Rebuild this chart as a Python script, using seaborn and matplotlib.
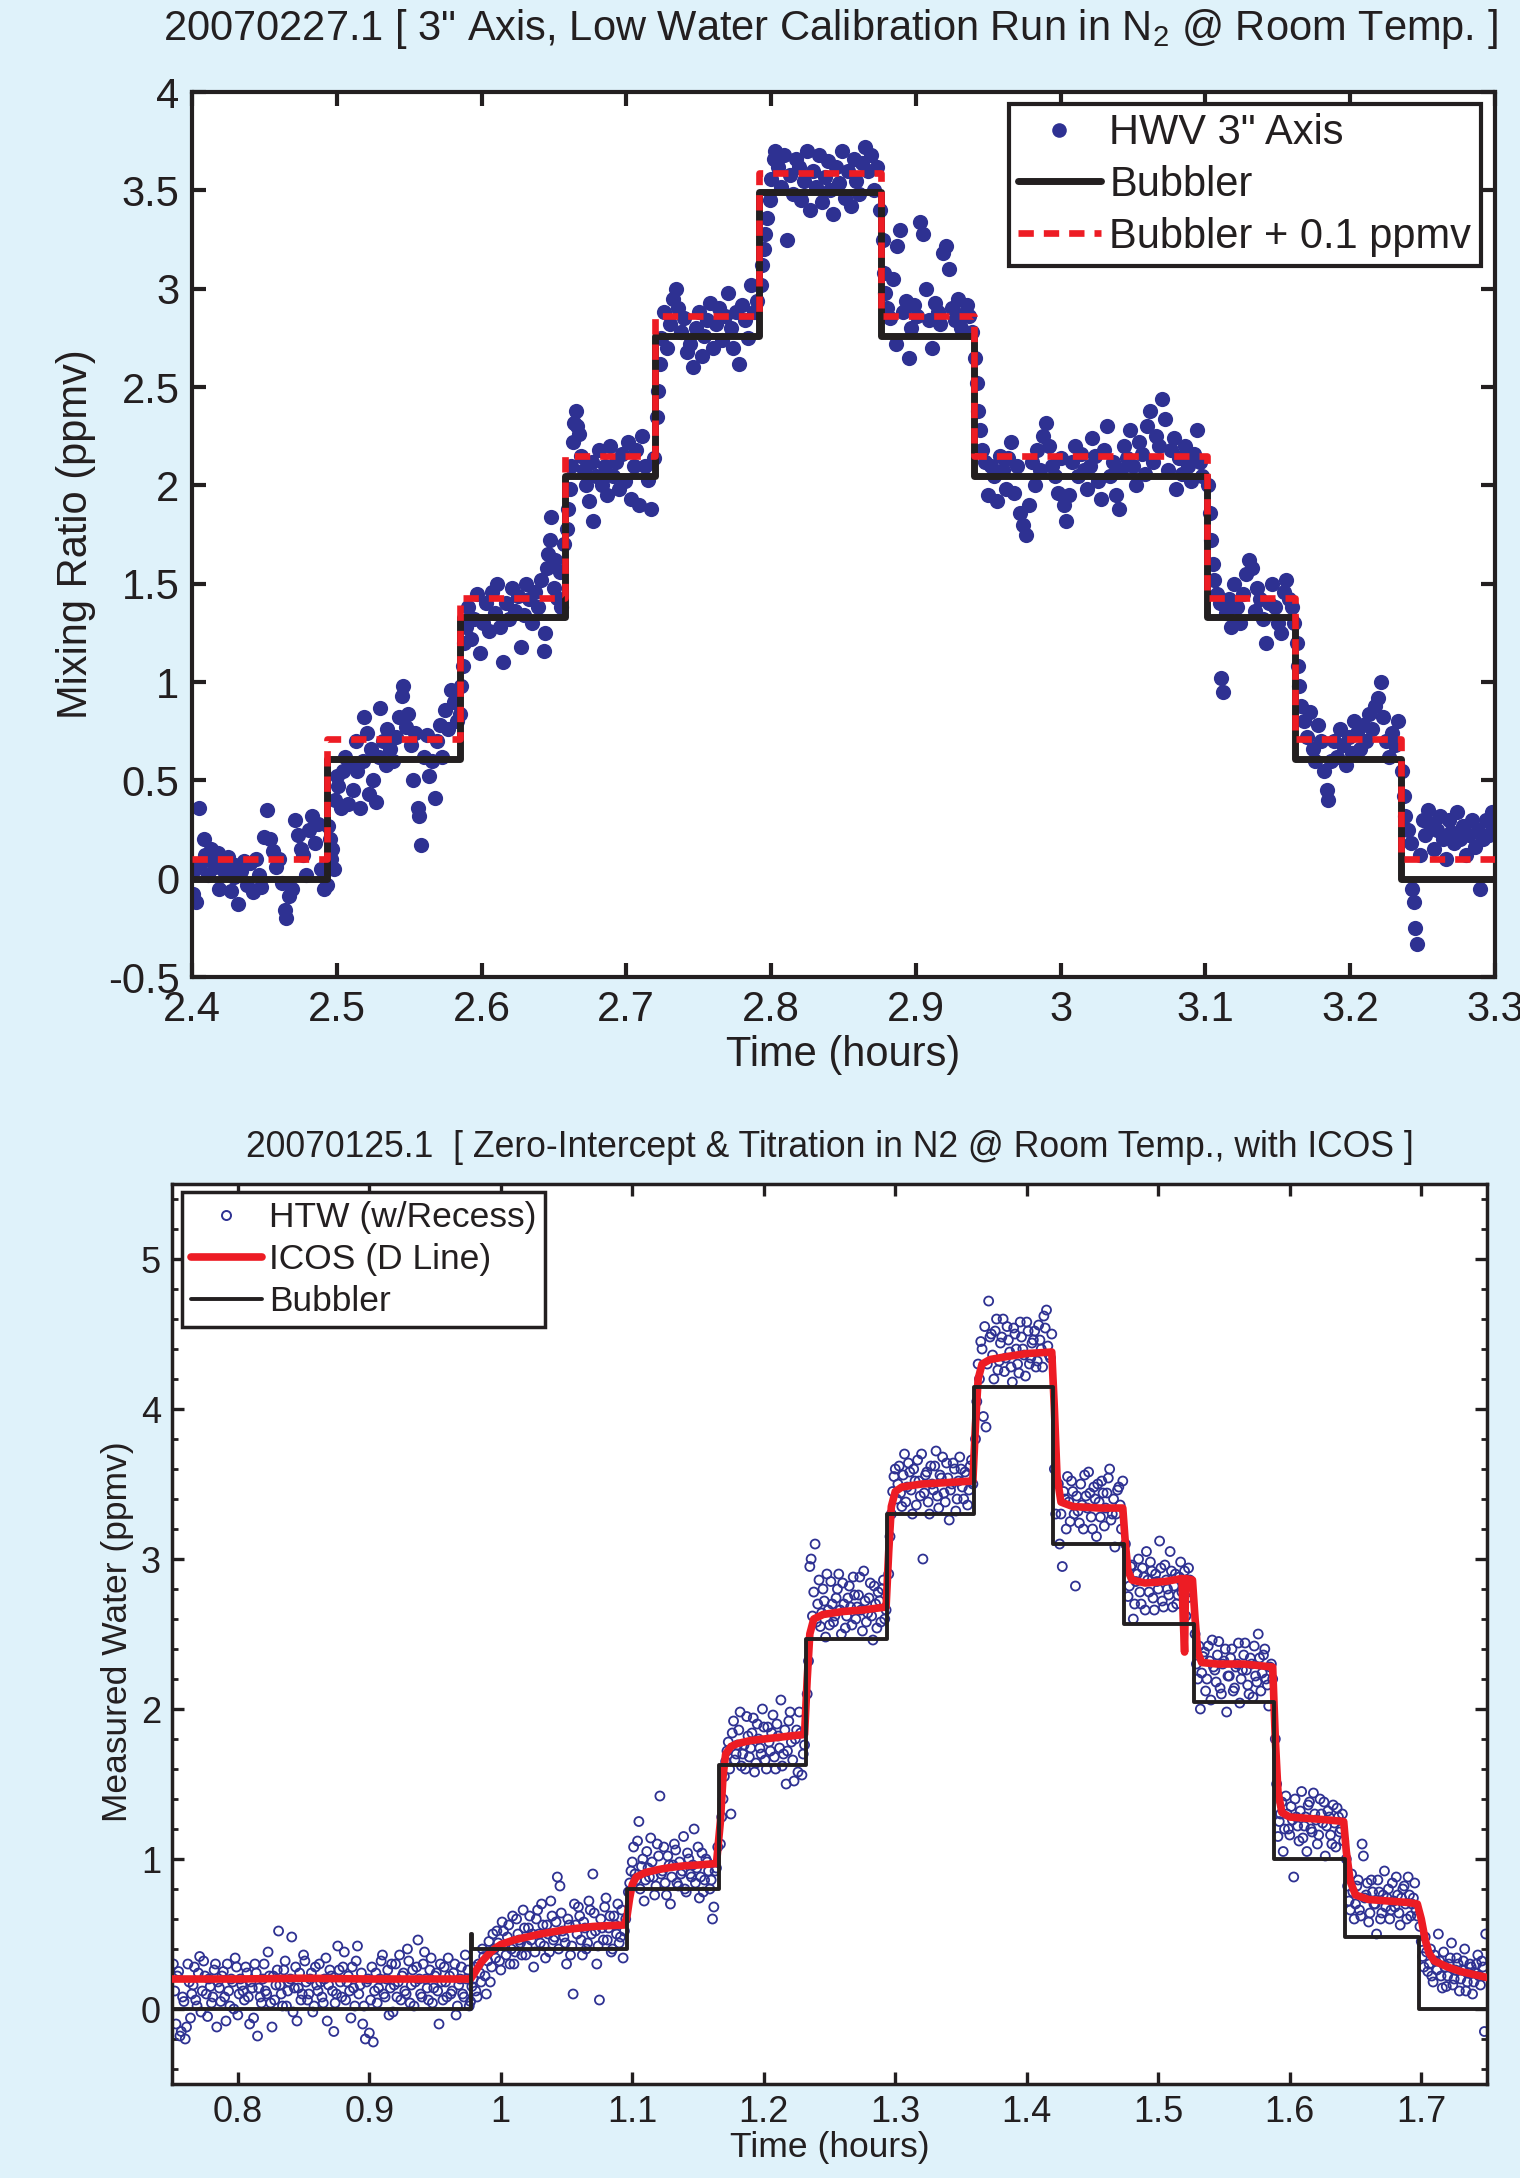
import numpy as np
import pandas as pd
import matplotlib
matplotlib.use("Agg")
import matplotlib.pyplot as plt
from matplotlib.lines import Line2D
from matplotlib.ticker import MultipleLocator, FuncFormatter
import seaborn as sns

# ---------------- top panel data (20070227.1) ----------------
top_title = '20070227.1 [ 3" Axis, Low Water Calibration Run in N$_2$ @ Room Temp. ]'
top_xticks = [2.4, 2.5, 2.6, 2.7, 2.8, 2.9, 3.0, 3.1, 3.2, 3.3]
top_yticks = [-0.5, 0, 0.5, 1, 1.5, 2, 2.5, 3, 3.5, 4]

# Bubbler step edges (hours) and levels (ppmv)
bubbler_top_t = [2.4, 2.493, 2.585, 2.658, 2.72, 2.792, 2.876, 2.94, 3.101, 3.162, 3.235, 3.3]
bubbler_top_v = [0.0, 0.61, 1.33, 2.05, 2.76, 3.49, 2.76, 2.05, 1.33, 0.61, 0.0, 0.0]
bubbler_offset = 0.1

# HWV 3" Axis measurements (time, ppmv)
hwv_points = [
    (2.401, -0.08), (2.402, 0.05), (2.403, -0.12), (2.405, 0.36), (2.406, 0.08), (2.408, 0.2),
    (2.409, 0.12), (2.411, 0.02), (2.413, 0.15), (2.414, 0.1), (2.416, 0.06), (2.418, 0.13),
    (2.419, -0.05), (2.421, 0.09), (2.423, 0.03), (2.425, 0.11), (2.427, -0.06), (2.429, 0.01),
    (2.430, 0.07), (2.432, -0.13), (2.434, 0.04), (2.436, 0.09), (2.438, -0.03), (2.440, 0.08),
    (2.442, -0.07), (2.444, 0.1), (2.446, 0.02), (2.448, -0.04), (2.450, 0.21), (2.452, 0.35),
    (2.454, 0.2), (2.456, 0.14), (2.458, 0.06), (2.460, 0.1), (2.462, -0.02), (2.464, -0.16),
    (2.465, -0.2), (2.467, -0.09), (2.469, -0.05), (2.471, 0.3), (2.473, 0.22), (2.475, 0.15),
    (2.477, 0.12), (2.479, 0.02), (2.481, 0.25), (2.483, 0.32), (2.485, 0.18), (2.487, 0.28),
    (2.489, 0.05), (2.491, -0.05), (2.493, -0.03), (2.494, 0.27), (2.495, 0.2), (2.496, 0.1),
    (2.497, 0.15), (2.498, 0.05),
    (2.499, 0.4), (2.500, 0.52), (2.501, 0.47), (2.503, 0.36), (2.504, 0.55), (2.506, 0.62),
    (2.508, 0.38), (2.509, 0.58), (2.511, 0.45), (2.513, 0.7), (2.514, 0.55), (2.516, 0.36),
    (2.518, 0.6), (2.519, 0.82), (2.521, 0.74), (2.522, 0.43), (2.524, 0.66), (2.525, 0.5),
    (2.527, 0.39), (2.529, 0.62), (2.530, 0.87), (2.532, 0.7), (2.534, 0.58), (2.535, 0.76),
    (2.537, 0.66), (2.539, 0.6), (2.541, 0.72), (2.543, 0.82), (2.545, 0.93), (2.546, 0.98),
    (2.548, 0.77), (2.549, 0.84), (2.551, 0.68), (2.553, 0.5), (2.554, 0.74), (2.556, 0.36),
    (2.557, 0.32), (2.558, 0.17), (2.560, 0.62), (2.562, 0.73), (2.564, 0.52), (2.566, 0.6),
    (2.568, 0.41), (2.569, 0.7), (2.571, 0.78), (2.573, 0.62), (2.575, 0.86), (2.577, 0.76),
    (2.579, 0.96), (2.581, 0.9), (2.583, 0.8), (2.585, 0.84),
    (2.586, 0.98), (2.587, 1.08), (2.588, 1.2), (2.589, 1.28), (2.591, 1.38), (2.593, 1.22),
    (2.595, 1.32), (2.597, 1.45), (2.599, 1.15), (2.601, 1.3), (2.603, 1.4), (2.605, 1.26),
    (2.607, 1.46), (2.609, 1.35), (2.611, 1.5), (2.613, 1.28), (2.615, 1.1), (2.617, 1.4),
    (2.619, 1.32), (2.621, 1.48), (2.623, 1.36), (2.625, 1.44), (2.627, 1.18), (2.629, 1.34),
    (2.631, 1.5), (2.633, 1.42), (2.635, 1.3), (2.637, 1.46), (2.639, 1.38), (2.641, 1.52),
    (2.643, 1.16), (2.644, 1.25), (2.645, 1.58), (2.646, 1.65), (2.647, 1.72), (2.648, 1.84),
    (2.650, 1.48), (2.651, 1.62), (2.652, 1.43), (2.654, 1.56), (2.655, 1.38), (2.657, 1.7),
    (2.659, 1.78), (2.660, 1.88), (2.661, 1.98), (2.662, 2.1), (2.663, 2.22), (2.664, 2.32),
    (2.665, 2.38), (2.666, 2.3), (2.667, 2.26), (2.669, 2.15), (2.671, 2.08), (2.672, 2.0),
    (2.674, 1.92), (2.676, 2.12), (2.677, 1.82), (2.679, 2.05), (2.681, 2.18), (2.683, 2.0),
    (2.685, 2.1), (2.687, 1.95), (2.689, 2.2), (2.691, 2.05), (2.693, 2.12), (2.695, 1.98),
    (2.697, 2.16), (2.699, 2.02), (2.701, 2.22), (2.703, 1.93), (2.705, 2.1), (2.707, 2.18),
    (2.709, 1.9), (2.711, 2.25), (2.713, 2.1), (2.715, 2.03), (2.717, 1.88), (2.719, 2.14),
    (2.721, 2.35), (2.722, 2.48), (2.723, 2.62), (2.724, 2.75), (2.726, 2.88), (2.728, 2.7),
    (2.730, 2.82), (2.732, 2.95), (2.734, 3.0), (2.736, 2.9), (2.738, 2.78), (2.740, 2.85),
    (2.742, 2.68), (2.744, 2.72), (2.746, 2.6), (2.748, 2.8), (2.750, 2.88), (2.752, 2.66),
    (2.754, 2.76), (2.756, 2.84), (2.758, 2.93), (2.760, 2.7), (2.762, 2.82), (2.764, 2.9),
    (2.766, 2.74), (2.768, 2.86), (2.770, 2.98), (2.772, 2.8), (2.774, 2.7), (2.776, 2.88),
    (2.778, 2.62), (2.780, 2.92), (2.782, 2.84), (2.784, 2.75), (2.786, 3.02), (2.788, 2.88),
    (2.790, 2.94),
    (2.793, 3.02), (2.794, 3.12), (2.795, 3.2), (2.796, 3.28), (2.797, 3.36), (2.799, 3.45),
    (2.800, 3.56), (2.802, 3.66), (2.803, 3.7), (2.805, 3.62), (2.807, 3.52), (2.809, 3.68),
    (2.811, 3.25), (2.813, 3.58), (2.815, 3.48), (2.817, 3.66), (2.819, 3.62), (2.821, 3.45),
    (2.823, 3.55), (2.825, 3.7), (2.827, 3.4), (2.829, 3.6), (2.831, 3.52), (2.833, 3.68),
    (2.835, 3.44), (2.837, 3.57), (2.839, 3.65), (2.841, 3.5), (2.843, 3.38), (2.845, 3.62),
    (2.847, 3.54), (2.849, 3.7), (2.851, 3.46), (2.853, 3.6), (2.855, 3.42), (2.857, 3.66),
    (2.859, 3.55), (2.861, 3.48), (2.863, 3.64), (2.865, 3.72), (2.867, 3.6), (2.869, 3.68),
    (2.871, 3.5), (2.873, 3.62), (2.875, 3.4),
    (2.877, 3.25), (2.878, 3.08), (2.879, 2.98), (2.880, 2.9), (2.882, 2.85), (2.884, 3.05),
    (2.886, 2.72), (2.887, 3.22), (2.889, 3.3), (2.891, 2.88), (2.893, 2.94), (2.895, 2.65),
    (2.897, 2.8), (2.899, 2.92), (2.901, 2.86), (2.903, 3.34), (2.905, 3.28), (2.907, 3.0),
    (2.909, 2.84), (2.911, 2.7), (2.913, 2.93), (2.915, 2.88), (2.917, 2.82), (2.919, 3.18),
    (2.921, 3.22), (2.923, 3.1), (2.925, 2.9), (2.927, 2.84), (2.929, 2.95), (2.931, 2.8),
    (2.933, 2.87), (2.935, 2.92), (2.937, 2.86), (2.939, 2.78),
    (2.941, 2.65), (2.942, 2.52), (2.943, 2.38), (2.944, 2.28), (2.946, 2.18), (2.948, 2.12),
    (2.950, 1.95), (2.952, 2.1), (2.954, 2.05), (2.956, 1.92), (2.958, 2.15), (2.960, 2.08),
    (2.962, 1.98), (2.964, 2.14), (2.966, 2.22), (2.968, 1.96), (2.970, 2.1), (2.972, 1.86),
    (2.974, 1.8), (2.976, 1.75), (2.978, 1.9), (2.980, 2.12), (2.982, 2.0), (2.984, 2.18),
    (2.986, 2.08), (2.988, 2.25), (2.990, 2.32), (2.992, 2.2), (2.994, 2.1), (2.996, 2.05),
    (2.998, 1.96), (3.000, 2.14), (3.002, 1.9), (3.004, 1.82), (3.006, 1.95), (3.008, 2.12),
    (3.010, 2.2), (3.012, 2.05), (3.014, 2.16), (3.016, 2.08), (3.018, 1.98), (3.020, 2.1),
    (3.022, 2.24), (3.024, 2.15), (3.026, 2.02), (3.028, 1.93), (3.030, 2.18), (3.032, 2.3),
    (3.034, 2.05), (3.036, 2.12), (3.038, 1.95), (3.040, 1.88), (3.042, 2.08), (3.044, 2.2),
    (3.046, 2.14), (3.048, 2.28), (3.050, 2.1), (3.052, 2.0), (3.054, 2.22), (3.056, 2.16),
    (3.058, 2.06), (3.060, 2.3), (3.062, 2.38), (3.064, 2.12), (3.066, 2.25), (3.068, 2.2),
    (3.070, 2.44), (3.072, 2.34), (3.074, 2.08), (3.076, 2.18), (3.078, 2.24), (3.080, 1.98),
    (3.082, 2.14), (3.084, 2.06), (3.086, 2.2), (3.088, 2.1), (3.090, 2.02), (3.092, 2.16),
    (3.094, 2.28), (3.096, 2.12), (3.098, 2.05),
    (3.102, 2.0), (3.103, 1.86), (3.104, 1.72), (3.105, 1.6), (3.106, 1.52), (3.108, 1.45),
    (3.110, 1.4), (3.111, 1.02), (3.112, 0.95), (3.114, 1.35), (3.116, 1.42), (3.118, 1.28),
    (3.120, 1.5), (3.122, 1.38), (3.124, 1.3), (3.126, 1.45), (3.128, 1.55), (3.130, 1.62),
    (3.132, 1.58), (3.134, 1.36), (3.136, 1.48), (3.138, 1.42), (3.140, 1.32), (3.142, 1.2),
    (3.144, 1.4), (3.146, 1.5), (3.148, 1.38), (3.150, 1.3), (3.152, 1.25), (3.154, 1.46),
    (3.156, 1.52), (3.158, 1.42), (3.160, 1.38), (3.161, 1.3),
    (3.163, 1.2), (3.164, 1.08), (3.165, 0.98), (3.166, 0.88), (3.168, 0.8), (3.170, 0.72),
    (3.172, 0.85), (3.174, 0.66), (3.176, 0.6), (3.178, 0.78), (3.180, 0.7), (3.182, 0.55),
    (3.184, 0.45), (3.185, 0.4), (3.187, 0.6), (3.189, 0.7), (3.191, 0.62), (3.193, 0.76),
    (3.195, 0.68), (3.197, 0.58), (3.199, 0.72), (3.201, 0.64), (3.203, 0.8), (3.205, 0.74),
    (3.207, 0.66), (3.209, 0.78), (3.211, 0.7), (3.213, 0.84), (3.215, 0.76), (3.217, 0.88),
    (3.219, 0.92), (3.221, 1.0), (3.223, 0.82), (3.225, 0.7), (3.227, 0.62), (3.229, 0.74),
    (3.231, 0.68), (3.233, 0.8),
    (3.236, 0.55), (3.237, 0.42), (3.238, 0.32), (3.240, 0.25), (3.242, 0.18), (3.243, -0.05),
    (3.244, -0.12), (3.245, -0.25), (3.246, -0.33), (3.248, 0.12), (3.250, 0.3), (3.252, 0.22),
    (3.254, 0.35), (3.256, 0.28), (3.258, 0.15), (3.260, 0.25), (3.262, 0.32), (3.264, 0.2),
    (3.266, 0.1), (3.268, 0.3), (3.270, 0.24), (3.272, 0.18), (3.274, 0.34), (3.276, 0.2),
    (3.278, 0.27), (3.280, 0.12), (3.282, 0.22), (3.284, 0.3), (3.286, 0.16), (3.288, 0.25),
    (3.290, -0.05), (3.292, 0.2), (3.294, 0.3), (3.296, 0.22), (3.298, 0.34), (3.299, 0.26),
]

# ---------------- bottom panel data (20070125.1) ----------------
bot_title = "20070125.1  [ Zero-Intercept & Titration in N2 @ Room Temp., with ICOS ]"
bot_xticks = [0.8, 0.9, 1.0, 1.1, 1.2, 1.3, 1.4, 1.5, 1.6, 1.7]
bot_yticks = [0, 1, 2, 3, 4, 5]

bubbler_bot_t = [0.75, 0.977, 0.978, 1.096, 1.166, 1.232, 1.294, 1.360, 1.420, 1.474,
                 1.527, 1.588, 1.642, 1.698, 1.75]
bubbler_bot_v = [0.0, 0.5, 0.40, 0.80, 1.63, 2.47, 3.30, 4.15, 3.10, 2.57,
                 2.05, 1.00, 0.48, 0.0, 0.0]

icos_points = [
    (0.750, 0.2), (0.800, 0.2), (0.850, 0.205), (0.900, 0.2), (0.950, 0.2), (0.977, 0.2),
    (0.980, 0.24), (0.985, 0.31), (0.990, 0.36), (0.995, 0.40), (1.000, 0.43), (1.010, 0.46),
    (1.020, 0.48), (1.030, 0.50), (1.040, 0.515), (1.050, 0.53), (1.060, 0.54), (1.070, 0.55),
    (1.080, 0.555), (1.094, 0.56),
    (1.096, 0.62), (1.098, 0.74), (1.100, 0.83), (1.103, 0.88), (1.110, 0.91), (1.120, 0.93),
    (1.130, 0.945), (1.140, 0.955), (1.150, 0.96), (1.164, 0.97),
    (1.167, 1.25), (1.169, 1.55), (1.171, 1.70), (1.175, 1.75), (1.180, 1.77), (1.190, 1.79),
    (1.200, 1.80), (1.210, 1.81), (1.220, 1.82), (1.231, 1.83),
    (1.233, 2.2), (1.235, 2.5), (1.238, 2.6), (1.245, 2.63), (1.260, 2.65), (1.275, 2.66),
    (1.293, 2.68),
    (1.295, 3.05), (1.297, 3.35), (1.300, 3.45), (1.305, 3.48), (1.320, 3.50), (1.340, 3.51),
    (1.359, 3.52),
    (1.361, 3.9), (1.363, 4.2), (1.366, 4.30), (1.372, 4.33), (1.385, 4.35), (1.400, 4.37),
    (1.419, 4.38),
    (1.421, 4.0), (1.423, 3.55), (1.426, 3.38), (1.435, 3.35), (1.455, 3.34), (1.473, 3.34),
    (1.475, 3.1), (1.477, 2.92), (1.480, 2.86), (1.490, 2.84), (1.505, 2.85), (1.518, 2.87),
    (1.519, 2.6), (1.520, 2.38), (1.5205, 2.7), (1.521, 2.87), (1.526, 2.86),
    (1.528, 2.6), (1.530, 2.38), (1.533, 2.31), (1.545, 2.30), (1.565, 2.30), (1.587, 2.28),
    (1.589, 1.8), (1.591, 1.45), (1.594, 1.31), (1.600, 1.28), (1.615, 1.27), (1.630, 1.26),
    (1.641, 1.25),
    (1.643, 1.05), (1.646, 0.85), (1.650, 0.76), (1.660, 0.73), (1.675, 0.72), (1.690, 0.71),
    (1.697, 0.70),
    (1.700, 0.6), (1.703, 0.46), (1.706, 0.37), (1.710, 0.32), (1.720, 0.28), (1.730, 0.25),
    (1.740, 0.23), (1.750, 0.21),
]

htw_points = [
    (0.751, 0.3), (0.753, -0.1), (0.755, 0.25), (0.757, -0.15), (0.759, 0.05), (0.761, -0.12),
    (0.763, 0.18), (0.765, 0.1), (0.767, 0.28), (0.769, 0.02), (0.771, 0.35), (0.773, 0.12),
    (0.775, 0.22), (0.777, -0.05), (0.779, 0.15), (0.781, 0.08), (0.783, 0.3), (0.785, 0.18),
    (0.787, 0.05), (0.789, 0.25), (0.791, -0.08), (0.793, 0.12), (0.795, 0.2), (0.797, 0.0),
    (0.799, 0.28), (0.801, 0.1), (0.803, 0.16), (0.805, 0.06), (0.807, 0.24), (0.809, -0.1),
    (0.811, 0.14), (0.813, 0.3), (0.815, -0.18), (0.817, 0.08), (0.819, 0.2), (0.821, 0.12),
    (0.823, 0.38), (0.825, 0.04), (0.827, 0.22), (0.829, 0.16), (0.831, 0.52), (0.833, 0.1),
    (0.835, 0.26), (0.837, 0.02), (0.839, 0.18), (0.841, 0.48), (0.843, 0.14), (0.845, -0.08),
    (0.847, 0.24), (0.849, 0.1), (0.851, 0.32), (0.853, 0.06), (0.855, 0.2), (0.857, -0.02),
    (0.859, 0.28), (0.861, 0.12), (0.863, 0.18), (0.865, 0.04), (0.867, 0.34), (0.869, 0.16),
    (0.871, 0.22), (0.873, -0.15), (0.875, 0.1), (0.877, 0.26), (0.879, 0.08), (0.881, 0.38),
    (0.883, 0.18), (0.885, 0.12), (0.887, 0.28), (0.889, 0.02), (0.891, 0.42), (0.893, 0.16),
    (0.895, -0.1), (0.897, -0.2), (0.899, 0.2), (0.901, 0.06), (0.903, -0.22), (0.905, 0.24),
    (0.907, 0.14), (0.909, 0.32), (0.911, 0.1), (0.913, 0.2), (0.915, -0.04), (0.917, 0.3),
    (0.919, 0.16), (0.921, 0.08), (0.923, 0.36), (0.925, 0.22), (0.927, 0.12), (0.929, 0.4),
    (0.931, 0.04), (0.933, 0.26), (0.935, 0.18), (0.937, 0.46), (0.939, 0.1), (0.941, 0.3),
    (0.943, 0.2), (0.945, 0.06), (0.947, 0.34), (0.949, 0.14), (0.951, 0.24), (0.953, -0.1),
    (0.955, 0.18), (0.957, 0.28), (0.959, 0.08), (0.961, 0.22), (0.963, 0.12), (0.965, 0.3),
    (0.967, 0.02), (0.969, 0.2), (0.971, 0.1), (0.973, 0.36), (0.975, 0.26),
    (0.977, 0.05), (0.979, 0.2), (0.981, 0.12), (0.983, 0.3), (0.985, 0.18), (0.987, 0.35),
    (0.989, 0.1), (0.991, 0.45), (0.993, 0.28), (0.995, 0.4), (0.997, 0.52), (0.999, 0.32),
    (1.001, 0.58), (1.003, 0.42), (1.005, 0.48), (1.007, 0.3), (1.009, 0.62), (1.011, 0.38),
    (1.013, 0.5), (1.015, 0.44), (1.017, 0.66), (1.019, 0.36), (1.021, 0.54), (1.023, 0.46),
    (1.025, 0.28), (1.027, 0.6), (1.029, 0.5), (1.031, 0.7), (1.033, 0.42), (1.035, 0.56),
    (1.037, 0.38), (1.039, 0.62), (1.041, 0.48), (1.043, 0.88), (1.045, 0.82), (1.047, 0.52),
    (1.049, 0.44), (1.051, 0.6), (1.053, 0.36), (1.055, 0.1), (1.057, 0.56), (1.059, 0.68),
    (1.061, 0.46), (1.063, 0.58), (1.065, 0.4), (1.067, 0.72), (1.069, 0.5), (1.071, 0.64),
    (1.073, 0.3), (1.075, 0.06), (1.077, 0.54), (1.079, 0.68), (1.081, 0.46), (1.083, 0.62),
    (1.085, 0.4), (1.087, 0.56), (1.089, 0.7), (1.091, 0.48), (1.093, 0.34), (1.095, 0.6),
    (1.097, 0.78), (1.099, 0.92), (1.101, 1.08), (1.103, 0.86), (1.105, 1.25), (1.107, 0.95),
    (1.109, 0.72), (1.111, 1.05), (1.113, 0.88), (1.115, 0.98), (1.117, 0.76), (1.119, 1.1),
    (1.121, 1.42), (1.123, 0.92), (1.125, 0.84), (1.127, 1.02), (1.129, 0.7), (1.131, 0.96),
    (1.133, 1.06), (1.135, 0.82), (1.137, 0.9), (1.139, 1.15), (1.141, 0.78), (1.143, 1.0),
    (1.145, 0.88), (1.147, 1.2), (1.149, 0.94), (1.151, 0.74), (1.153, 1.04), (1.155, 0.86),
    (1.157, 0.98), (1.159, 0.8), (1.161, 0.6), (1.163, 0.92), (1.165, 1.08),
    (1.167, 1.1), (1.168, 1.28), (1.169, 1.4), (1.171, 1.65), (1.173, 1.78), (1.175, 1.3),
    (1.177, 1.92), (1.179, 1.7), (1.181, 1.86), (1.183, 1.62), (1.185, 1.76), (1.187, 1.95),
    (1.189, 1.68), (1.191, 1.84), (1.193, 1.58), (1.195, 1.9), (1.197, 1.74), (1.199, 2.0),
    (1.201, 1.66), (1.203, 1.88), (1.205, 1.72), (1.207, 1.96), (1.209, 1.6), (1.211, 1.82),
    (1.213, 2.06), (1.215, 1.7), (1.217, 1.5), (1.219, 1.92), (1.221, 1.78), (1.223, 1.52),
    (1.225, 1.86), (1.227, 1.98), (1.229, 1.56), (1.231, 1.76),
    (1.233, 2.1), (1.234, 2.32), (1.235, 2.95), (1.236, 3.0), (1.237, 2.62), (1.239, 3.1),
    (1.241, 2.7), (1.243, 2.55), (1.245, 2.8), (1.247, 2.48), (1.249, 2.66), (1.251, 2.85),
    (1.253, 2.58), (1.255, 2.74), (1.257, 2.9), (1.259, 2.5), (1.261, 2.7), (1.263, 2.62),
    (1.265, 2.82), (1.267, 2.56), (1.269, 2.76), (1.271, 2.68), (1.273, 2.88), (1.275, 2.52),
    (1.277, 2.72), (1.279, 2.64), (1.281, 2.84), (1.283, 2.46), (1.285, 2.7), (1.287, 2.78),
    (1.289, 2.58), (1.291, 2.86), (1.293, 2.66),
    (1.295, 2.9), (1.297, 3.3), (1.299, 3.55), (1.301, 3.4), (1.303, 3.62), (1.305, 3.35),
    (1.307, 3.7), (1.309, 3.48), (1.311, 3.58), (1.313, 3.3), (1.315, 3.52), (1.317, 3.66),
    (1.319, 3.42), (1.321, 3.0), (1.323, 3.56), (1.325, 3.38), (1.327, 3.62), (1.329, 3.46),
    (1.331, 3.72), (1.333, 3.34), (1.335, 3.54), (1.337, 3.44), (1.339, 3.64), (1.341, 3.26),
    (1.343, 3.5), (1.345, 3.6), (1.347, 3.4), (1.349, 3.68), (1.351, 3.48), (1.353, 3.58),
    (1.355, 3.36), (1.357, 3.62), (1.359, 3.5),
    (1.361, 3.8), (1.362, 4.05), (1.363, 4.3), (1.365, 4.45), (1.367, 3.95), (1.369, 3.88),
    (1.371, 4.72), (1.373, 4.5), (1.375, 4.2), (1.377, 4.6), (1.379, 4.32), (1.381, 4.48),
    (1.383, 4.25), (1.385, 4.55), (1.387, 4.38), (1.389, 4.18), (1.391, 4.5), (1.393, 4.3),
    (1.395, 4.58), (1.397, 4.4), (1.399, 4.22), (1.401, 4.52), (1.403, 4.34), (1.405, 4.46),
    (1.407, 4.28), (1.409, 4.56), (1.411, 4.4), (1.413, 4.62), (1.415, 4.66), (1.417, 4.36),
    (1.419, 4.5),
    (1.421, 3.6), (1.422, 3.3), (1.424, 3.5), (1.425, 3.1), (1.427, 2.95), (1.429, 3.4),
    (1.431, 3.55), (1.433, 3.25), (1.435, 3.45), (1.437, 2.82), (1.439, 3.32), (1.441, 3.5),
    (1.443, 3.2), (1.445, 3.42), (1.447, 3.58), (1.449, 3.28), (1.451, 3.48), (1.453, 3.15),
    (1.455, 3.38), (1.457, 3.52), (1.459, 3.22), (1.461, 3.44), (1.463, 3.6), (1.465, 3.3),
    (1.467, 3.08), (1.469, 3.46), (1.471, 3.36), (1.473, 3.52),
    (1.475, 3.1), (1.477, 2.75), (1.479, 2.95), (1.481, 2.6), (1.483, 2.85), (1.485, 3.0),
    (1.487, 2.7), (1.489, 2.88), (1.491, 3.05), (1.493, 2.78), (1.495, 2.92), (1.497, 2.66),
    (1.499, 2.85), (1.501, 3.12), (1.503, 2.72), (1.505, 2.96), (1.507, 2.8), (1.509, 3.05),
    (1.511, 2.68), (1.513, 2.9), (1.515, 2.76), (1.517, 2.98), (1.519, 2.84), (1.521, 2.62),
    (1.523, 2.94), (1.525, 2.78),
    (1.528, 2.5), (1.530, 2.2), (1.532, 2.0), (1.534, 2.35), (1.536, 2.12), (1.538, 2.42),
    (1.540, 2.06), (1.542, 2.28), (1.544, 2.18), (1.546, 2.45), (1.548, 2.1), (1.550, 2.32),
    (1.552, 1.98), (1.554, 2.22), (1.556, 2.4), (1.558, 2.14), (1.560, 2.3), (1.562, 2.04),
    (1.564, 2.26), (1.566, 2.44), (1.568, 2.16), (1.570, 2.34), (1.572, 2.08), (1.574, 2.22),
    (1.576, 2.5), (1.578, 2.12), (1.580, 2.36), (1.582, 2.2), (1.584, 2.02), (1.586, 2.3),
    (1.589, 1.8), (1.590, 1.5), (1.591, 1.15), (1.593, 1.3), (1.595, 1.05), (1.597, 1.42),
    (1.599, 1.2), (1.601, 1.35), (1.603, 0.88), (1.605, 1.28), (1.607, 1.12), (1.609, 1.45),
    (1.611, 1.22), (1.613, 1.05), (1.615, 1.38), (1.617, 1.18), (1.619, 1.3), (1.621, 1.1),
    (1.623, 1.4), (1.625, 1.24), (1.627, 1.02), (1.629, 1.32), (1.631, 1.16), (1.633, 1.36),
    (1.635, 1.08), (1.637, 1.28), (1.639, 1.2), (1.641, 1.12),
    (1.643, 1.0), (1.645, 0.72), (1.647, 0.9), (1.649, 0.6), (1.651, 0.82), (1.653, 0.66),
    (1.655, 1.1), (1.656, 1.02), (1.658, 0.76), (1.660, 0.58), (1.662, 0.86), (1.664, 0.7),
    (1.666, 0.5), (1.668, 0.78), (1.670, 0.64), (1.672, 0.92), (1.674, 0.74), (1.676, 0.6),
    (1.678, 0.84), (1.680, 0.68), (1.682, 0.76), (1.684, 0.56), (1.686, 0.8), (1.688, 0.7),
    (1.690, 0.88), (1.692, 0.62), (1.694, 0.74), (1.696, 0.66),
    (1.699, 0.55), (1.701, 0.35), (1.703, 0.48), (1.705, 0.25), (1.707, 0.4), (1.709, 0.18),
    (1.711, 0.32), (1.713, 0.5), (1.715, 0.22), (1.717, 0.38), (1.719, 0.15), (1.721, 0.3),
    (1.723, 0.44), (1.725, 0.2), (1.727, 0.34), (1.729, 0.12), (1.731, 0.26), (1.733, 0.4),
    (1.735, 0.18), (1.737, 0.3), (1.739, 0.1), (1.741, 0.24), (1.743, 0.36), (1.745, 0.16),
    (1.747, 0.28), (1.748, -0.15), (1.749, 0.5),
]

htw_points_extra = [
    (0.752, 0.12), (0.754, 0.22), (0.756, -0.18), (0.758, 0.08), (0.760, -0.2), (0.762, 0.3),
    (0.764, -0.06), (0.766, 0.16), (0.768, 0.06), (0.770, 0.24), (0.772, -0.02), (0.774, 0.32),
    (0.776, 0.1), (0.778, 0.2), (0.780, 0.04), (0.782, 0.26), (0.784, -0.12), (0.786, 0.14),
    (0.788, 0.22), (0.790, 0.08), (0.792, 0.3), (0.794, 0.02), (0.796, 0.18), (0.798, 0.34),
    (0.800, -0.04), (0.802, 0.2), (0.804, 0.12), (0.806, 0.28), (0.808, 0.08), (0.810, 0.18),
    (0.812, -0.06), (0.814, 0.24), (0.816, 0.14), (0.818, 0.04), (0.820, 0.3), (0.822, 0.1),
    (0.824, 0.22), (0.826, -0.12), (0.828, 0.06), (0.830, 0.26), (0.832, 0.16), (0.834, 0.02),
    (0.836, 0.32), (0.838, 0.12), (0.840, 0.2), (0.842, -0.02), (0.844, 0.28), (0.846, 0.14),
    (0.848, 0.06), (0.850, 0.36), (0.852, 0.18), (0.854, 0.1), (0.856, 0.24), (0.858, 0.02),
    (0.860, 0.16), (0.862, 0.3), (0.864, 0.08), (0.866, 0.2), (0.868, -0.08), (0.870, 0.26),
    (0.872, 0.12), (0.874, 0.04), (0.876, 0.42), (0.878, 0.18), (0.880, 0.28), (0.882, 0.06),
    (0.884, 0.22), (0.886, -0.06), (0.888, 0.14), (0.890, 0.32), (0.892, 0.1), (0.894, 0.24),
    (0.896, 0.02), (0.898, 0.18), (0.900, -0.16), (0.902, 0.28), (0.904, 0.12), (0.906, 0.04),
    (0.908, 0.2), (0.910, 0.36), (0.912, 0.08), (0.914, 0.26), (0.916, 0.14), (0.918, -0.02),
    (0.920, 0.3), (0.922, 0.18), (0.924, 0.06), (0.926, 0.24), (0.928, 0.1), (0.930, 0.32),
    (0.932, 0.16), (0.934, 0.02), (0.936, 0.28), (0.938, 0.2), (0.940, 0.08), (0.942, 0.38),
    (0.944, 0.14), (0.946, 0.26), (0.948, 0.04), (0.950, 0.22), (0.952, 0.12), (0.954, 0.3),
    (0.956, 0.06), (0.958, 0.18), (0.960, 0.34), (0.962, 0.1), (0.964, 0.24), (0.966, -0.04),
    (0.968, 0.16), (0.970, 0.28), (0.972, 0.08), (0.974, 0.2), (0.976, 0.02),
    (0.978, 0.15), (0.980, 0.28), (0.982, 0.08), (0.984, 0.24), (0.986, 0.4), (0.988, 0.22),
    (0.990, 0.32), (0.992, 0.18), (0.994, 0.5), (0.996, 0.34), (0.998, 0.44), (1.000, 0.26),
    (1.002, 0.52), (1.004, 0.36), (1.006, 0.56), (1.008, 0.4), (1.010, 0.3), (1.012, 0.6),
    (1.014, 0.46), (1.016, 0.36), (1.018, 0.54), (1.020, 0.42), (1.022, 0.62), (1.024, 0.5),
    (1.026, 0.38), (1.028, 0.66), (1.030, 0.44), (1.032, 0.56), (1.034, 0.34), (1.036, 0.5),
    (1.038, 0.72), (1.040, 0.46), (1.042, 0.58), (1.044, 0.4), (1.046, 0.64), (1.048, 0.48),
    (1.050, 0.3), (1.052, 0.56), (1.054, 0.42), (1.056, 0.7), (1.058, 0.5), (1.060, 0.62),
    (1.062, 0.36), (1.064, 0.54), (1.066, 0.44), (1.068, 0.66), (1.070, 0.9), (1.072, 0.52),
    (1.074, 0.42), (1.076, 0.6), (1.078, 0.46), (1.080, 0.74), (1.082, 0.54), (1.084, 0.38),
    (1.086, 0.62), (1.088, 0.5), (1.090, 0.44), (1.092, 0.66), (1.094, 0.52),
    (1.098, 0.84), (1.100, 0.98), (1.102, 0.9), (1.104, 1.12), (1.106, 0.8), (1.108, 1.0),
    (1.110, 0.86), (1.112, 0.94), (1.114, 1.14), (1.116, 0.88), (1.118, 0.82), (1.120, 1.02),
    (1.122, 0.9), (1.124, 1.08), (1.126, 0.76), (1.128, 0.96), (1.130, 0.88), (1.132, 1.1),
    (1.134, 0.84), (1.136, 0.98), (1.138, 0.92), (1.140, 0.8), (1.142, 1.04), (1.144, 0.9),
    (1.146, 0.96), (1.148, 0.84), (1.150, 1.08), (1.152, 0.88), (1.154, 0.78), (1.156, 1.0),
    (1.158, 0.92), (1.160, 0.86), (1.162, 0.68), (1.164, 0.94),
    (1.170, 1.55), (1.172, 1.72), (1.174, 1.6), (1.176, 1.84), (1.178, 1.66), (1.180, 1.76),
    (1.182, 1.98), (1.184, 1.7), (1.186, 1.6), (1.188, 1.82), (1.190, 1.74), (1.192, 1.94),
    (1.194, 1.64), (1.196, 1.8), (1.198, 1.7), (1.200, 1.88), (1.202, 1.6), (1.204, 1.78),
    (1.206, 1.84), (1.208, 1.68), (1.210, 1.9), (1.212, 1.74), (1.214, 1.62), (1.216, 1.86),
    (1.218, 1.72), (1.220, 1.98), (1.222, 1.66), (1.224, 1.8), (1.226, 1.58), (1.228, 1.84),
    (1.230, 1.7),
    (1.238, 2.78), (1.240, 2.58), (1.242, 2.86), (1.244, 2.64), (1.246, 2.72), (1.248, 2.9),
    (1.250, 2.56), (1.252, 2.7), (1.254, 2.62), (1.256, 2.8), (1.258, 2.66), (1.260, 2.84),
    (1.262, 2.54), (1.264, 2.74), (1.266, 2.68), (1.268, 2.88), (1.270, 2.6), (1.272, 2.76),
    (1.274, 2.66), (1.276, 2.92), (1.278, 2.58), (1.280, 2.74), (1.282, 2.62), (1.284, 2.82),
    (1.286, 2.54), (1.288, 2.72), (1.290, 2.8), (1.292, 2.6),
    (1.296, 3.15), (1.298, 3.45), (1.300, 3.6), (1.302, 3.5), (1.304, 3.44), (1.306, 3.56),
    (1.308, 3.38), (1.310, 3.64), (1.312, 3.46), (1.314, 3.6), (1.316, 3.36), (1.318, 3.52),
    (1.320, 3.7), (1.322, 3.44), (1.324, 3.58), (1.326, 3.3), (1.328, 3.5), (1.330, 3.62),
    (1.332, 3.42), (1.334, 3.56), (1.336, 3.68), (1.338, 3.38), (1.340, 3.54), (1.342, 3.46),
    (1.344, 3.64), (1.346, 3.32), (1.348, 3.52), (1.350, 3.6), (1.352, 3.4), (1.354, 3.56),
    (1.356, 3.46), (1.358, 3.66),
    (1.364, 4.2), (1.366, 4.4), (1.368, 4.55), (1.370, 4.3), (1.372, 4.48), (1.374, 4.36),
    (1.376, 4.52), (1.378, 4.26), (1.380, 4.44), (1.382, 4.6), (1.384, 4.34), (1.386, 4.46),
    (1.388, 4.28), (1.390, 4.54), (1.392, 4.4), (1.394, 4.24), (1.396, 4.48), (1.398, 4.36),
    (1.400, 4.58), (1.402, 4.3), (1.404, 4.44), (1.406, 4.52), (1.408, 4.32), (1.410, 4.46),
    (1.412, 4.28), (1.414, 4.54), (1.416, 4.42), (1.418, 4.34),
    (1.426, 3.3), (1.428, 3.45), (1.430, 3.2), (1.432, 3.38), (1.434, 3.52), (1.436, 3.3),
    (1.438, 3.42), (1.440, 3.24), (1.442, 3.36), (1.444, 3.56), (1.446, 3.34), (1.448, 3.44),
    (1.450, 3.2), (1.452, 3.4), (1.454, 3.5), (1.456, 3.28), (1.458, 3.44), (1.460, 3.34),
    (1.462, 3.54), (1.464, 3.26), (1.466, 3.4), (1.468, 3.3), (1.470, 3.48), (1.472, 3.2),
    (1.478, 2.82), (1.480, 2.96), (1.482, 2.7), (1.484, 2.9), (1.486, 2.78), (1.488, 2.94),
    (1.490, 2.66), (1.492, 2.86), (1.494, 2.98), (1.496, 2.74), (1.498, 2.9), (1.500, 2.8),
    (1.502, 2.94), (1.504, 2.68), (1.506, 2.86), (1.508, 2.76), (1.510, 2.92), (1.512, 2.82),
    (1.514, 2.7), (1.516, 2.88), (1.518, 2.78), (1.520, 2.92), (1.522, 2.74), (1.524, 2.86),
    (1.529, 2.3), (1.531, 2.42), (1.533, 2.24), (1.535, 2.38), (1.537, 2.2), (1.539, 2.32),
    (1.541, 2.46), (1.543, 2.26), (1.545, 2.36), (1.547, 2.14), (1.549, 2.3), (1.551, 2.4),
    (1.553, 2.22), (1.555, 2.34), (1.557, 2.12), (1.559, 2.28), (1.561, 2.44), (1.563, 2.2),
    (1.565, 2.36), (1.567, 2.26), (1.569, 2.1), (1.571, 2.3), (1.573, 2.42), (1.575, 2.18),
    (1.577, 2.34), (1.579, 2.24), (1.581, 2.4), (1.583, 2.16), (1.585, 2.28), (1.587, 2.2),
    (1.592, 1.25), (1.594, 1.38), (1.596, 1.2), (1.598, 1.3), (1.600, 1.16), (1.602, 1.26),
    (1.604, 1.4), (1.606, 1.22), (1.608, 1.32), (1.610, 1.14), (1.612, 1.28), (1.614, 1.36),
    (1.616, 1.2), (1.618, 1.44), (1.620, 1.26), (1.622, 1.16), (1.624, 1.3), (1.626, 1.38),
    (1.628, 1.22), (1.630, 1.28), (1.632, 1.1), (1.634, 1.24), (1.636, 1.34), (1.638, 1.18),
    (1.640, 1.3),
    (1.644, 0.82), (1.646, 0.66), (1.648, 0.78), (1.650, 0.7), (1.652, 0.86), (1.654, 0.62),
    (1.657, 0.74), (1.659, 0.84), (1.661, 0.64), (1.663, 0.78), (1.665, 0.7), (1.667, 0.86),
    (1.669, 0.6), (1.671, 0.76), (1.673, 0.68), (1.675, 0.8), (1.677, 0.66), (1.679, 0.72),
    (1.681, 0.88), (1.683, 0.64), (1.685, 0.74), (1.687, 0.82), (1.689, 0.6), (1.691, 0.76),
    (1.693, 0.7), (1.695, 0.84), (1.697, 0.62),
    (1.700, 0.45), (1.702, 0.28), (1.704, 0.38), (1.706, 0.3), (1.708, 0.22), (1.710, 0.36),
    (1.712, 0.26), (1.714, 0.32), (1.716, 0.14), (1.718, 0.28), (1.720, 0.22), (1.722, 0.34),
    (1.724, 0.16), (1.726, 0.26), (1.728, 0.3), (1.730, 0.2), (1.732, 0.32), (1.734, 0.12),
    (1.736, 0.24), (1.738, 0.28), (1.740, 0.18), (1.742, 0.3), (1.744, 0.22), (1.746, 0.32),
]

# ---------------- styling ----------------
sns.set_style("ticks")
plt.rcParams["font.family"] = ["Liberation Sans", "DejaVu Sans"]
plt.rcParams["mathtext.fontset"] = "custom"
plt.rcParams["mathtext.rm"] = "Liberation Sans"
plt.rcParams["mathtext.it"] = "Liberation Sans:italic"
plt.rcParams["axes.unicode_minus"] = False

BG = "#dff2fa"
NAVY = "#2e3192"
RED = "#ed1c24"
BLACK = "#231f20"

fmt = FuncFormatter(lambda v, p: f"{v:g}")

fig = plt.figure(figsize=(15.2, 21.78), dpi=100, facecolor=BG)
ax1 = fig.add_axes([0.1263, 0.5514, 0.8572, 0.4063])
ax2 = fig.add_axes([0.1132, 0.04316, 0.8651, 0.4132])

# ---------------- top panel ----------------
hwv = pd.DataFrame(hwv_points, columns=["t", "v"])
sns.scatterplot(data=hwv, x="t", y="v", ax=ax1, color=NAVY, s=120, linewidth=0,
                legend=False, zorder=2)
bt = pd.DataFrame({"t": bubbler_top_t, "v": bubbler_top_v})
bt["v_off"] = bt["v"] + bubbler_offset
sns.lineplot(data=bt, x="t", y="v", ax=ax1, color=BLACK, lw=5, drawstyle="steps-post",
             estimator=None, sort=False, legend=False, zorder=3)
sns.lineplot(data=bt, x="t", y="v_off", ax=ax1, color=RED, lw=4.8, drawstyle="steps-post",
             estimator=None, sort=False, legend=False, zorder=4, dashes=False)
ax1.lines[-1].set_dashes((2.3, 1.5))

ax1.set_xlim(2.4, 3.3)
ax1.set_ylim(-0.5, 4)
ax1.set_xticks(top_xticks)
ax1.set_yticks(top_yticks)
ax1.xaxis.set_major_formatter(fmt)
ax1.yaxis.set_major_formatter(fmt)
ax1.tick_params(which="major", direction="in", top=True, right=True, length=10, width=3,
                labelsize=30, pad=9, color=BLACK, labelcolor=BLACK)
for sp in ax1.spines.values():
    sp.set_linewidth(3)
    sp.set_color(BLACK)
    sp.set_visible(True)
ax1.set_facecolor("white")
ax1.set_xlabel("Time (hours)", fontsize=30, color=BLACK)
ax1.set_ylabel("Mixing Ratio (ppmv)", fontsize=30, color=BLACK)
ax1.xaxis.set_label_coords(0.5, -0.0877)
ax1.xaxis.label.set_va("center")
ax1.yaxis.set_label_coords(-0.089, 0.5)
ax1.yaxis.label.set_va("center")

h1 = [Line2D([], [], marker="o", ls="none", color=NAVY, markersize=10.5, mew=0),
      Line2D([], [], color=BLACK, lw=5),
      Line2D([], [], color=RED, lw=4.8, dashes=(2.3, 1.5))]
leg1 = ax1.legend(h1, ['HWV 3" Axis', "Bubbler", "Bubbler + 0.1 ppmv"], loc="upper right",
                  bbox_to_anchor=(0.989, 0.9864), borderaxespad=0, fontsize=30,
                  frameon=True, fancybox=False, handlelength=2.0, handletextpad=0.2,
                  borderpad=0.22, labelspacing=0.28)
leg1.get_frame().set_edgecolor(BLACK)
leg1.get_frame().set_linewidth(3)
leg1.get_frame().set_alpha(1)
for t in leg1.get_texts():
    t.set_color(BLACK)

fig.text(830 / 1520, 1 - 40 / 2178, top_title, ha="center", va="baseline",
         fontsize=30, color=BLACK)

# ---------------- bottom panel ----------------
htw = pd.DataFrame(htw_points + htw_points_extra, columns=["t", "v"])
sns.scatterplot(data=htw, x="t", y="v", ax=ax2, color=NAVY, s=42, marker="o",
                facecolors="none", edgecolors=NAVY, linewidth=1.3, legend=False, zorder=2)
icos = pd.DataFrame(icos_points, columns=["t", "v"])
sns.lineplot(data=icos, x="t", y="v", ax=ax2, color=RED, lw=5.5, estimator=None, sort=False,
             legend=False, zorder=3)
bb = pd.DataFrame({"t": bubbler_bot_t, "v": bubbler_bot_v})
sns.lineplot(data=bb, x="t", y="v", ax=ax2, color=BLACK, lw=2.8, drawstyle="steps-post",
             estimator=None, sort=False, legend=False, zorder=4)

ax2.set_xlim(0.75, 1.75)
ax2.set_ylim(-0.5, 5.5)
ax2.set_xticks(bot_xticks)
ax2.set_yticks(bot_yticks)
ax2.yaxis.set_minor_locator(MultipleLocator(0.2))
ax2.xaxis.set_major_formatter(fmt)
ax2.yaxis.set_major_formatter(fmt)
ax2.tick_params(which="major", direction="in", top=True, right=True, length=8.5, width=2.4,
                labelsize=26, pad=8, color=BLACK, labelcolor=BLACK)
ax2.tick_params(axis="y", which="minor", direction="in", left=True, right=True, length=4.5,
                width=2.0, color=BLACK)
for sp in ax2.spines.values():
    sp.set_linewidth(2.5)
    sp.set_color(BLACK)
    sp.set_visible(True)
ax2.set_facecolor("white")
ax2.set_xlabel("Time (hours)", fontsize=25.5, color=BLACK)
ax2.set_ylabel("Measured Water (ppmv)", fontsize=25.5, color=BLACK)
ax2.xaxis.set_label_coords(0.5, -0.0711)
ax2.xaxis.label.set_va("center")
ax2.yaxis.set_label_coords(-0.0418, 0.503)
ax2.yaxis.label.set_va("center")

h2 = [Line2D([], [], marker="o", ls="none", mfc="none", mec=NAVY, markersize=6.5, mew=1.4),
      Line2D([], [], color=RED, lw=5.5),
      Line2D([], [], color=BLACK, lw=2.8)]
leg2 = ax2.legend(h2, ["HTW (w/Recess)", "ICOS (D Line)", "Bubbler"], loc="upper left",
                  bbox_to_anchor=(0.0076, 0.991), borderaxespad=0, fontsize=25.5,
                  frameon=True, fancybox=False, handlelength=2.0, handletextpad=0.2,
                  borderpad=0.25, labelspacing=0.26)
leg2.get_frame().set_edgecolor(BLACK)
leg2.get_frame().set_linewidth(2.5)
leg2.get_frame().set_alpha(1)
for t in leg2.get_texts():
    t.set_color(BLACK)

fig.text(829.5 / 1520, 1 - 1157 / 2178, bot_title, ha="center", va="baseline",
         fontsize=25.6, color=BLACK)

fig.savefig("out.png", dpi=100, facecolor=BG)
